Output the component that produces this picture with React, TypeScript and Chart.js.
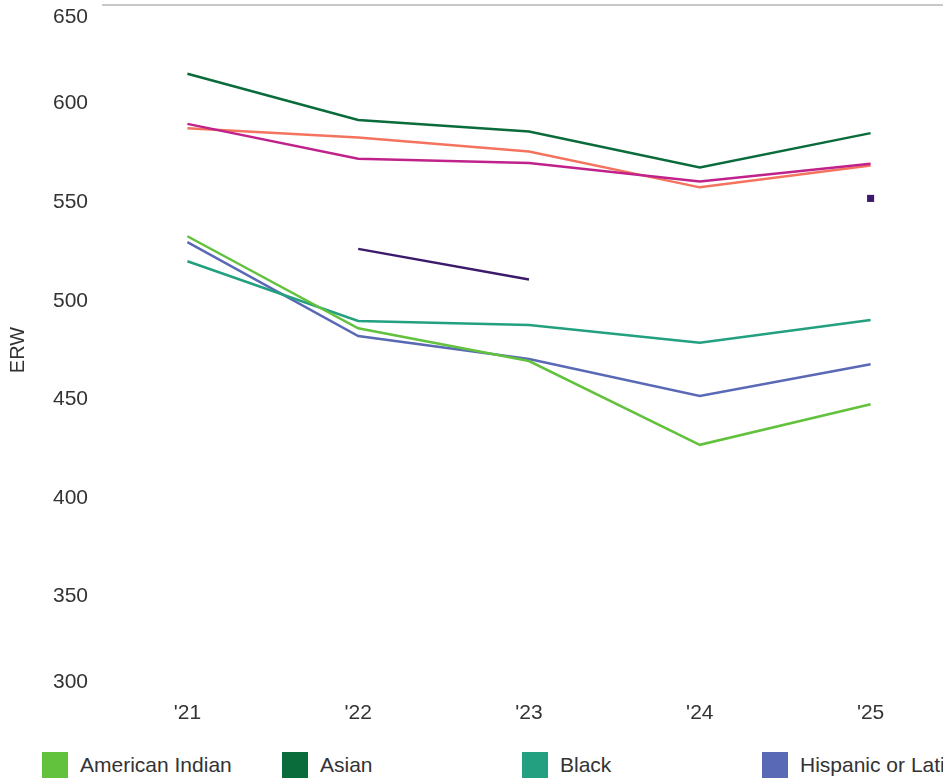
import React, { useEffect, useRef } from "react";
import { Chart, registerables } from "chart.js";

Chart.register(...registerables);

const years = ["'21", "'22", "'23", "'24", "'25"];
const yTicks = [300, 350, 400, 450, 500, 550, 600, 650];

const americanIndian = [532.7, 486.0, 469.4, 426.9, 447.5];
const asian = [615.1, 591.7, 585.8, 567.6, 585.0];
const black = [520.0, 489.7, 487.7, 478.7, 490.2];
const hispanic = [529.7, 482.1, 470.4, 451.7, 467.8];
const pacificIslander = [null, 526.3, 510.8, null, 551.9];
const twoOrMore = [589.7, 572.0, 569.8, 560.5, 569.5];
const white = [587.5, 582.8, 575.7, 557.5, 568.6];

const seriesNames = [
  "American Indian",
  "Asian",
  "Black",
  "Hispanic or Latino",
  "Native Hawaiian or Pacific Islander",
  "Two or More Races",
  "White",
];
const seriesValues = [americanIndian, asian, black, hispanic, pacificIslander, twoOrMore, white];
const seriesColors = ["#62c23e", "#0a6b3b", "#22a07f", "#5a69b6", "#3b1a6c", "#c0228c", "#f4735f"];

const FONT = "'Liberation Sans', Arial, sans-serif";

export default function App() {
  const canvasRef = useRef<HTMLCanvasElement | null>(null);

  useEffect(() => {
    if (!canvasRef.current) return;
    const chart = new Chart(canvasRef.current, {
      type: "line",
      data: {
        labels: years,
        datasets: seriesNames.map((name, i) => ({
          label: name,
          data: seriesValues[i],
          borderColor: seriesColors[i],
          backgroundColor: seriesColors[i],
          borderWidth: 2.5,
          tension: 0,
          spanGaps: false,
          pointStyle: "rect",
          pointRadius: (ctx: any) => {
            const d = ctx.dataset.data as (number | null)[];
            const k = ctx.dataIndex;
            if (d[k] == null) return 0;
            const prev = k > 0 ? d[k - 1] : null;
            const next = k < d.length - 1 ? d[k + 1] : null;
            return prev == null && next == null ? 5 : 0;
          },
          pointHoverRadius: 0,
          pointBorderWidth: 0,
        })),
      },
      options: {
        responsive: false,
        animation: false,
        maintainAspectRatio: false,
        layout: { padding: { top: 3, right: 84, left: 0, bottom: 0 } },
        plugins: {
          legend: { display: false },
          tooltip: { enabled: false },
        },
        scales: {
          x: {
            offset: true,
            grid: { display: false, drawTicks: false },
            border: { display: false },
            ticks: {
              color: "#333",
              font: { family: FONT, size: 21 },
              padding: 6,
              maxRotation: 0,
            },
            afterFit: (scale: any) => {
              scale.height = 45;
            },
          },
          y: {
            min: 300,
            max: 650,
            border: { display: false },
            grid: {
              drawTicks: false,
              color: (ctx: any) => (ctx.tick && ctx.tick.value === 650 ? "#c8c8c8" : "rgba(0,0,0,0)"),
              lineWidth: 2,
            },
            afterBuildTicks: (scale: any) => {
              scale.ticks = yTicks.map((v) => ({ value: v }));
            },
            ticks: {
              color: "#333",
              font: { family: FONT, size: 21 },
              padding: 14,
              callback: (value: any) => {
                if (value === 650) return ["", String(value)];
                if (value === 300) return [String(value), ""];
                return String(value);
              },
            },
            title: {
              display: true,
              text: "ERW",
              color: "#333",
              font: { family: FONT, size: 20 },
              padding: { top: 6, bottom: 0 },
            },
            afterFit: (scale: any) => {
              scale.width = 102;
              scale.paddingTop = 0;
              scale.paddingBottom = 0;
            },
          },
        },
      },
    });
    return () => chart.destroy();
  }, []);

  return (
    <div
      style={{
        position: "fixed",
        left: 0,
        top: 0,
        width: 943,
        height: 780,
        overflow: "hidden",
        background: "#fff",
      }}
    >
      <canvas
        ref={canvasRef}
        width={1040}
        height={740}
        style={{ position: "absolute", left: 0, top: 0, width: 1040, height: 740 }}
      />
      <div
        style={{
          position: "absolute",
          left: 42,
          top: 752,
          display: "flex",
          flexWrap: "wrap",
          width: 1200,
          fontFamily: FONT,
          fontSize: 21,
          color: "#333",
        }}
      >
        {seriesNames.map((name, i) => (
          <div
            key={name}
            style={{ width: 240, height: 26, display: "flex", alignItems: "center", marginBottom: 10 }}
          >
            <span
              style={{
                display: "inline-block",
                width: 26,
                height: 26,
                background: seriesColors[i],
                marginRight: 12,
                flex: "0 0 auto",
              }}
            />
            <span style={{ whiteSpace: "nowrap" }}>{name}</span>
          </div>
        ))}
      </div>
    </div>
  );
}
